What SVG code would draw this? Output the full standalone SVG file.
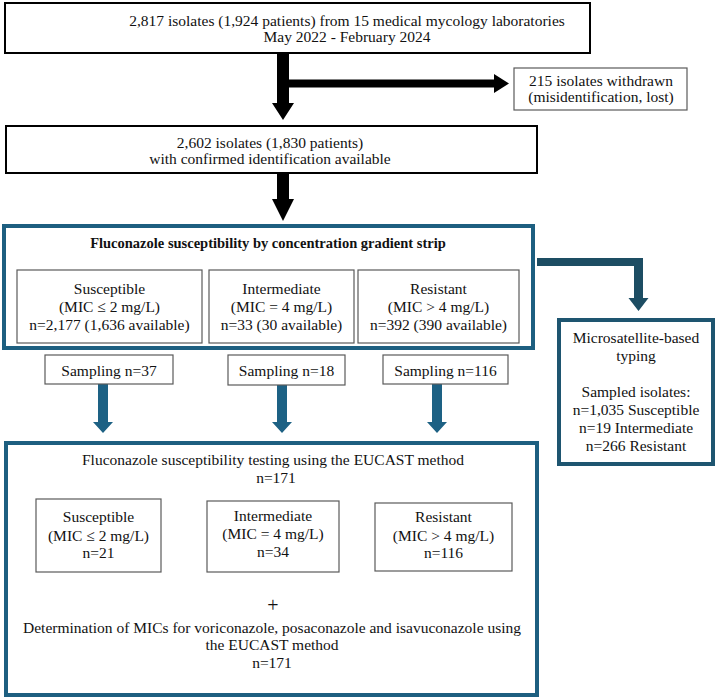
<svg xmlns="http://www.w3.org/2000/svg" width="717" height="698" viewBox="0 0 717 698">
<style>
text{font-family:"Liberation Serif","Times New Roman",serif;font-size:15.5px;fill:#111;text-anchor:middle}
.b{font-weight:bold;font-size:14.5px}
.blk{fill:#fff;stroke:#000;stroke-width:2}
.gry{fill:#fff;stroke:#5a5a5a;stroke-width:1.2}
.blu{fill:#fff;stroke:#1d5f80;stroke-width:4}
.dk{fill:#fff;stroke:#1e5570;stroke-width:4}
.ab{fill:#000}
.at{fill:#1d6184}
.ad{fill:#1d4d63}
</style>
<rect width="717" height="698" fill="#fff"/>
<g id="connectors">
<polygon class="ab" points="277,53 289,53 289,103 294,103 283,120 272,103 277,103"/>
<polygon class="ab" points="289,79.5 494,79.5 494,74 509,83.5 494,93 494,87.5 289,87.5"/>
<polygon class="ab" points="277,173 289,173 289,199 294,199 283,221 272,199 277,199"/>
<polygon class="ad" points="537,258 643,258 643,298 648.5,298 638.5,311 628.5,298 634,298 634,266 537,266"/>
<polygon class="at" points="98,384 108,384 108,422 113,422 103,433 93,422 98,422"/>
<polygon class="at" points="277,385 287,385 287,422 292,422 282,433 272,422 277,422"/>
<polygon class="at" points="432,384 442,384 442,422 447,422 437,433 427,422 432,422"/>
</g>
<g id="n-start">
<rect class="blk" x="5" y="3" width="585" height="50"/>
<text x="347" y="26">2,817 isolates (1,924 patients) from 15 medical mycology laboratories</text>
<text x="347" y="42">May 2022 - February 2024</text>
</g>
<g id="n-withdrawn">
<rect class="gry" x="514" y="68" width="173" height="42"/>
<text x="601" y="86">215 isolates withdrawn</text>
<text x="601" y="102">(misidentification, lost)</text>
</g>
<g id="n-confirmed">
<rect class="blk" x="6" y="126" width="531" height="47"/>
<text x="270" y="148">2,602 isolates (1,830 patients)</text>
<text x="270" y="164">with confirmed identification available</text>
</g>
<g id="n-strip">
<rect class="blu" x="4" y="226" width="529" height="122"/>
<text class="b" x="268" y="248">Fluconazole susceptibility by concentration gradient strip</text>
</g>
<g id="n-strip-s">
<rect class="gry" x="17" y="270" width="185" height="73"/>
<text x="109.5" y="294">Susceptible</text>
<text x="109.5" y="312">(MIC ≤ 2 mg/L)</text>
<text x="109.5" y="330">n=2,177 (1,636 available)</text>
</g>
<g id="n-strip-i">
<rect class="gry" x="209" y="270" width="145" height="73"/>
<text x="281.5" y="294">Intermediate</text>
<text x="281.5" y="312">(MIC = 4 mg/L)</text>
<text x="281.5" y="330">n=33 (30 available)</text>
</g>
<g id="n-strip-r">
<rect class="gry" x="358" y="270" width="161" height="73"/>
<text x="438.5" y="294">Resistant</text>
<text x="438.5" y="312">(MIC &gt; 4 mg/L)</text>
<text x="438.5" y="330">n=392 (390 available)</text>
</g>
<g id="n-micro">
<rect class="dk" x="559" y="320" width="154" height="144"/>
<text x="636" y="343">Microsatellite-based</text>
<text x="636" y="361">typing</text>
<text x="636" y="397">Sampled isolates:</text>
<text x="636" y="415">n=1,035 Susceptible</text>
<text x="636" y="433">n=19 Intermediate</text>
<text x="636" y="451">n=266 Resistant</text>
</g>
<g id="n-samp-s">
<rect class="gry" x="45" y="355" width="128" height="29"/>
<text x="109" y="376">Sampling n=37</text>
</g>
<g id="n-samp-i">
<rect class="gry" x="228" y="355" width="117" height="30"/>
<text x="286.5" y="376">Sampling n=18</text>
</g>
<g id="n-samp-r">
<rect class="gry" x="383" y="355" width="125" height="29"/>
<text x="445.5" y="376">Sampling n=116</text>
</g>
<g id="n-eucast">
<rect class="blu" x="6" y="443" width="531" height="252"/>
<text x="273" y="465">Fluconazole susceptibility testing using the EUCAST method</text>
<text x="276" y="483">n=171</text>
<text x="273" y="612" style="font-size:20px">+</text>
<text x="272" y="633">Determination of MICs for voriconazole, posaconazole and isavuconazole using</text>
<text x="272" y="650">the EUCAST method</text>
<text x="272" y="668">n=171</text>
</g>
<g id="n-eu-s">
<rect class="gry" x="36" y="499" width="125" height="73"/>
<text x="98.5" y="522">Susceptible</text>
<text x="98.5" y="541">(MIC ≤ 2 mg/L)</text>
<text x="98.5" y="558">n=21</text>
</g>
<g id="n-eu-i">
<rect class="gry" x="207" y="501" width="132" height="71"/>
<text x="273" y="521">Intermediate</text>
<text x="273" y="539">(MIC = 4 mg/L)</text>
<text x="273" y="557">n=34</text>
</g>
<g id="n-eu-r">
<rect class="gry" x="375" y="503" width="137" height="68"/>
<text x="443.5" y="522">Resistant</text>
<text x="443.5" y="541">(MIC &gt; 4 mg/L)</text>
<text x="443.5" y="558">n=116</text>
</g>
</svg>
